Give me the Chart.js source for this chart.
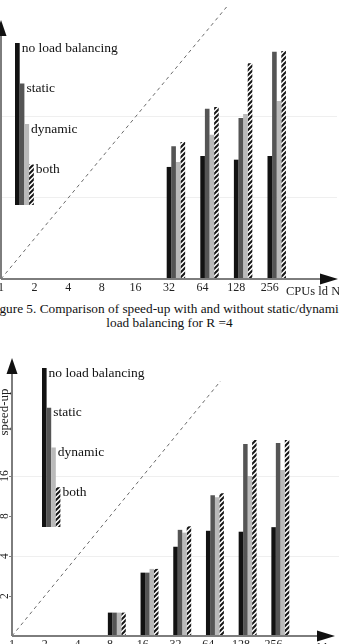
<!DOCTYPE html>
<html>
<head>
<meta charset="utf-8">
<script src="https://cdn.jsdelivr.net/npm/chart.js@4"></script>
<style>
  body { margin: 0; width: 339px; height: 644px; overflow: hidden; background: #fff; position: relative; }
  canvas { position: absolute; left: 0; top: 0; }
  .caption {
    position: absolute; left: 50%; white-space: nowrap; text-align: center; color: #111;
    font: 13.3px/14px "Liberation Serif", serif;
  }
</style>
</head>
<body>
<canvas id="fig5" width="380" height="330"></canvas>
<div class="caption" style="top:302px; transform: translateX(calc(-50% - 3px))">Figure 5. Comparison of speed-up with and without static/dynamic</div>
<div class="caption" style="top:316px; transform: translateX(-50%)">load balancing for R =4</div>
<canvas id="fig6" width="380" height="340"></canvas>
<script>
const cpuLabels = ['1', '2', '4', '8', '16', '32', '64', '128', '256'];
const seriesNames = ['no load balancing', 'static', 'dynamic', 'both'];
const speedTicks = [2, 4, 8, 16];
// ideal speed-up (dashed diagonal), one value per CPU count
const idealSpeedup = [1, 2, 4, 8, 16, 32, 64, 128];

// upper figure (R = 4)
const noLbR4 = [null, null, null, null, null, 6.8, 8.2, 7.7, 8.2];
const staticR4 = [null, null, null, null, null, 9.7, 18.4, 15.7, 48.7];
const dynamicR4 = [null, null, null, null, null, 7.4, 11.8, 16.8, 21];
const bothR4 = [null, null, null, null, null, 10.4, 19, 40, 49.5];

// lower figure
const noLbLow = [null, null, null, 1.5, 3.0, 4.7, 6.2, 6.1, 6.6];
const staticLow = [null, null, null, 1.5, 3.0, 6.3, 11.5, 27.9, 28.4];
const dynamicLow = [null, null, null, 1.5, 3.2, 6.0, 11.1, 16, 17.8];
const bothLow = [null, null, null, 1.5, 3.2, 6.7, 11.9, 29.9, 29.9];

const AXIS = '#7d7d7d';
const SERIF = '"Liberation Serif", "DejaVu Serif", serif';

function hatch() {
    const c = document.createElement('canvas');
    c.width = c.height = 5;
    const g = c.getContext('2d');
    g.fillStyle = '#fff';
    g.fillRect(0, 0, 5, 5);
    g.strokeStyle = '#161616';
    g.lineWidth = 2;
    g.beginPath();
    g.moveTo(-1, 6); g.lineTo(6, -1);
    g.moveTo(-1, 1); g.lineTo(1, -1);
    g.moveTo(4, 6); g.lineTo(6, 4);
    g.stroke();
    return g.createPattern(c, 'repeat');
}
const fills = ['#121212', '#555555', '#bababa', hatch()];

// axes with arrows, bar legend, rotated y labels, axis names
const figurePlugin = {
    id: 'figure',
    afterDatasetsDraw(chart, args, opts) {
        const ctx = chart.ctx;
        const a = chart.chartArea;
        const ys = chart.scales.y;
        ctx.save();
        ctx.strokeStyle = AXIS;
        ctx.lineWidth = 2;
        const xTip = a.right - opts.xInset;
        ctx.beginPath();
        ctx.moveTo(a.left, a.bottom);
        ctx.lineTo(xTip - 10, a.bottom);
        ctx.moveTo(a.left, a.bottom);
        ctx.lineTo(a.left, a.top + 10);
        ctx.stroke();
        ctx.fillStyle = '#111';
        ctx.beginPath();
        ctx.moveTo(xTip, a.bottom);
        ctx.lineTo(xTip - 18, a.bottom - 5.5);
        ctx.lineTo(xTip - 18, a.bottom + 5.5);
        ctx.closePath();
        ctx.fill();
        ctx.beginPath();
        ctx.moveTo(a.left, a.top);
        ctx.lineTo(a.left - 5.5, a.top + 16);
        ctx.lineTo(a.left + 5.5, a.top + 16);
        ctx.closePath();
        ctx.fill();

        // legend drawn as a staircase of bars
        const lg = opts.legend;
        const step = (lg.bottom - lg.top) / 4;
        ctx.font = '13.5px ' + SERIF;
        ctx.textBaseline = 'middle';
        ctx.textAlign = 'left';
        chart.data.datasets.filter(d => d.inLegend).forEach((d, i) => {
            const x = a.left + lg.x + i * lg.w;
            const top = a.top + lg.top + i * step;
            ctx.fillStyle = d.backgroundColor;
            ctx.fillRect(x, top, lg.w, a.top + lg.bottom - top);
            ctx.fillStyle = '#111';
            ctx.fillText(d.label, x + lg.w + 2, top + 5);
        });

        ctx.fillStyle = '#222';
        ctx.font = '12.5px ' + SERIF;
        ctx.fillText('CPUs ld N', a.left + opts.xTitleX, a.bottom + 13);

        ctx.textAlign = 'center';
        ctx.font = '11.5px ' + SERIF;
        ys.ticks.forEach(t => {
            ctx.save();
            ctx.translate(a.left - 7, ys.getPixelForValue(t.value));
            ctx.rotate(-Math.PI / 2);
            ctx.fillText(String(t.value), 0, 0);
            ctx.restore();
        });
        ctx.font = '13px ' + SERIF;
        ctx.translate(a.left - 7, a.top + 54);
        ctx.rotate(-Math.PI / 2);
        ctx.fillText('speed-up', 0, 0);
        ctx.restore();
    }
};

function makeChart(id, series, cfg) {
    const bars = series.map((vals, i) => ({
        type: 'bar',
        label: seriesNames[i],
        inLegend: true,
        data: vals,
        backgroundColor: fills[i],
        borderWidth: 0
    }));
    // three empty slots so each group starts at its tick
    const spacers = [0, 1, 2].map(() => ({ type: 'bar', data: cpuLabels.map(() => null) }));
    const pad = { top: 20, right: 10, left: 10, bottom: 0 };
    const chart = new Chart(document.getElementById(id), {
        data: {
            labels: cpuLabels.concat(['', '']),
            datasets: spacers.concat(bars).concat([{
                type: 'line',
                data: idealSpeedup,
                borderColor: '#6a6a6a',
                borderWidth: 1,
                borderDash: [3.5, 3.5],
                pointRadius: 0,
                clip: { left: 0, right: 0, bottom: 0, top: cfg.lineClip }
            }])
        },
        options: {
            responsive: false,
            animation: false,
            events: [],
            layout: { autoPadding: false, padding: pad },
            datasets: { bar: { categoryPercentage: 0.96, barPercentage: 1 } },
            plugins: {
                legend: { display: false },
                tooltip: { enabled: false },
                figure: cfg.plugin
            },
            scales: {
                x: {
                    type: 'category',
                    offset: false,
                    grid: { display: false, drawTicks: false },
                    border: { display: false },
                    ticks: {
                        autoSkip: false, maxRotation: 0, padding: 2,
                        color: '#222', font: { family: SERIF, size: 12 }
                    },
                    afterFit: s => { s.height = 20; }
                },
                y: {
                    type: 'logarithmic',
                    min: 1,
                    max: cfg.yMax,
                    border: { display: false },
                    grid: {
                        color: c => (c.tick && (c.tick.value === 4 || c.tick.value === 16)) ? '#efefef' : 'rgba(0,0,0,0)',
                        tickColor: AXIS,
                        tickLength: 3
                    },
                    ticks: { display: false },
                    afterBuildTicks: s => { s.ticks = speedTicks.map(v => ({ value: v })); },
                    afterFit: s => { s.width = 12; }
                }
            }
        },
        plugins: [figurePlugin]
    });
    // size the plot area, then move the canvas so the axes sit where the figure has them
    const a = chart.chartArea;
    pad.right += (a.right - a.left) - cfg.width;
    pad.top += (a.bottom - a.top) - cfg.height;
    chart.update();
    const b = chart.chartArea;
    chart.canvas.style.left = (cfg.originX - b.left) + 'px';
    chart.canvas.style.top = (cfg.originY - b.bottom) + 'px';
    return chart;
}

makeChart('fig5', [noLbR4, staticR4, dynamicR4, bothR4], {
    originX: 0.5, originY: 279, width: 336, height: 259, yMax: 84, lineClip: 13,
    plugin: { xInset: -1, xTitleX: 285, legend: { x: 14, top: 23, bottom: 185, w: 4.7 } }
});

makeChart('fig6', [noLbLow, staticLow, dynamicLow, bothLow], {
    originX: 12, originY: 636, width: 327, height: 278, yMax: 124, lineClip: -23,
    plugin: { xInset: 4, xTitleX: 273, legend: { x: 30, top: 10, bottom: 169, w: 4.6 } }
});
</script>
</body>
</html>
